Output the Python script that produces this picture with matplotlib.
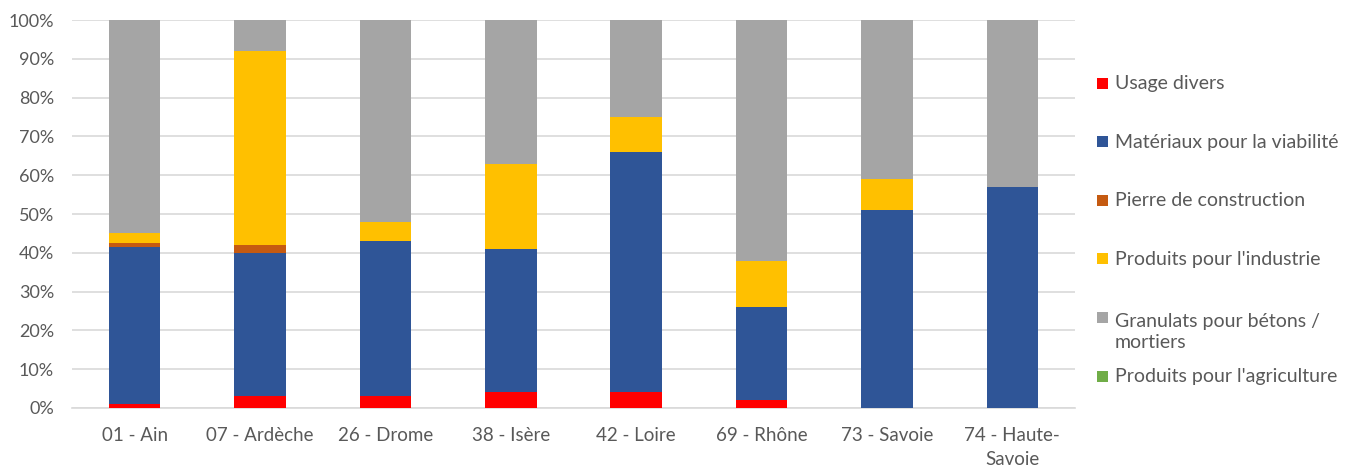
import matplotlib
matplotlib.use("Agg")
import matplotlib.pyplot as plt
import numpy as np
from matplotlib.patches import Rectangle
from matplotlib.ticker import FuncFormatter

categories = ["01 - Ain", "07 - Ardèche", "26 - Drome", "38 - Isère", "42 - Loire",
              "69 - Rhône", "73 - Savoie", "74 - Haute-\nSavoie"]
series_names = ["Usage divers", "Matériaux pour la viabilité", "Pierre de construction",
                "Produits pour l'industrie", "Granulats pour bétons /\nmortiers",
                "Produits pour l'agriculture"]
usage_divers = [1, 3, 3, 4, 4, 2, 0, 0]
materiaux = [40.5, 37, 40, 37, 62, 24, 51, 57]
pierre = [1, 2, 0, 0, 0, 0, 0, 0]
industrie = [2.5, 50, 5, 22, 9, 12, 8, 0]
granulats = [55, 8, 52, 37, 25, 62, 41, 43]
agriculture = [0, 0, 0, 0, 0, 0, 0, 0]
colors = ["#FF0000", "#2F5597", "#C55A11", "#FFC000", "#A5A5A5", "#70AD47"]

plt.rcParams['font.family'] = ['Lato', 'DejaVu Sans']
W, H = 1353, 470
fig = plt.figure(figsize=(W / 100, H / 100), dpi=100)
ax = fig.add_axes([72 / W, 1 - 408 / H, (1075 - 72) / W, (408 - 20) / H])

x = np.arange(len(categories))
bottom = np.zeros(len(categories))
data = [usage_divers, materiaux, pierre, industrie, granulats, agriculture]
for vals, col, name in zip(data, colors, series_names):
    v = np.array(vals, dtype=float)
    ax.bar(x, v, 0.41, bottom=bottom, color=col, label=name, zorder=3)
    bottom += v

ax.set_xlim(-0.5, len(categories) - 0.5)
ax.set_ylim(0, 100)
ax.set_yticks(np.arange(0, 101, 10))
ax.yaxis.set_major_formatter(FuncFormatter(lambda v, p: f"{int(v)}%"))
ax.set_xticks(x)
ax.set_xticklabels(categories, linespacing=1.5)
ax.grid(axis='y', color='#D9D9D9', linewidth=1.2, zorder=0)
for s in ['top', 'right', 'left']:
    ax.spines[s].set_visible(False)
ax.spines['bottom'].set_color('#D9D9D9')
ax.spines['bottom'].set_linewidth(1.2)
ax.tick_params(axis='both', length=0, colors='#595959')
ax.tick_params(axis='y', labelsize=13, pad=13)
ax.tick_params(axis='x', labelsize=13.5, pad=14)

# legend drawn at Excel-like positions
line_px = 24.3
for i, (name, col) in enumerate(zip(series_names, colors)):
    yc = 83 + 58.6 * i
    fig.patches.append(Rectangle((1097 / W, 1 - (yc + 5.5) / H), 11 / W, 11 / H,
                                 transform=fig.transFigure, facecolor=col,
                                 edgecolor='none'))
    extra = name.count("\n") * line_px
    fig.text(1115 / W, 1 - (yc + 6 + extra) / H, name, fontsize=14, color='#595959',
             ha='left', va='baseline', linespacing=1.25)

fig.savefig("out.png", dpi=100)
